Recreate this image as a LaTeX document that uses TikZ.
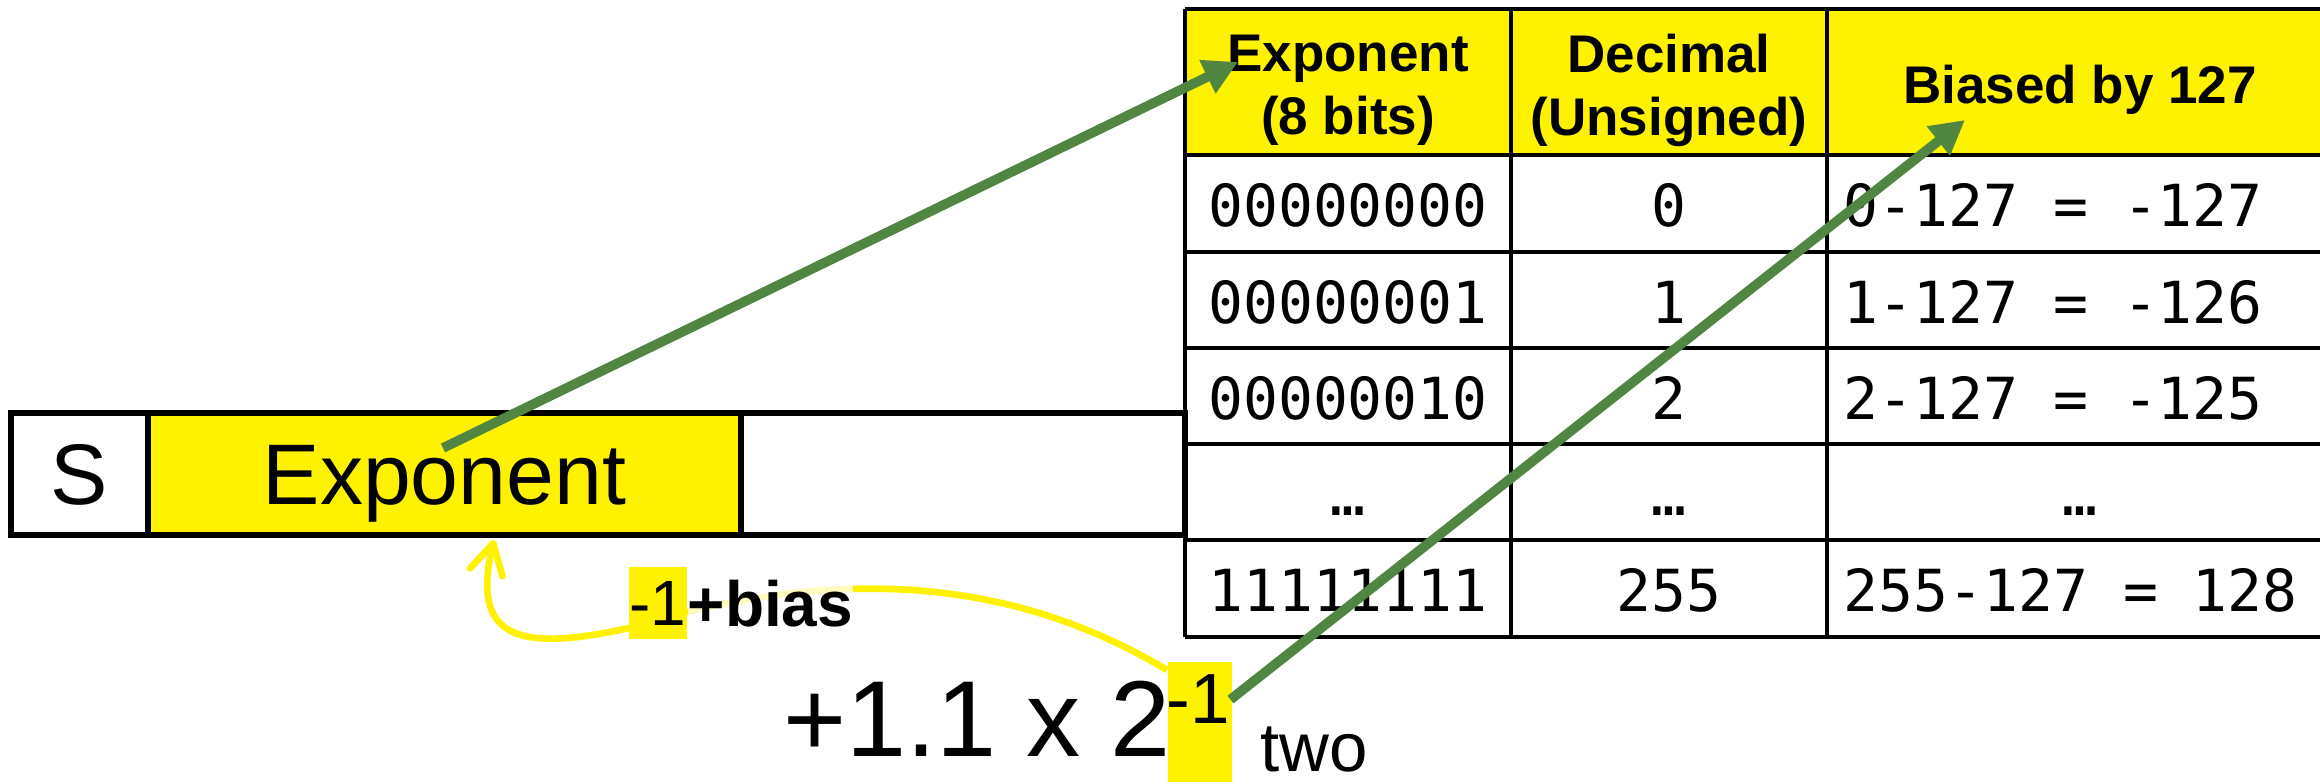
\documentclass[tikz,border=0pt]{standalone}
\usepackage{fontspec}
\setmainfont{Liberation Sans}
\newfontfamily\monofont{DejaVu Sans Mono}
\usetikzlibrary{arrows.meta}
\definecolor{arrowgreen}{RGB}{80,134,66}
\tikzset{
  tabline/.style={line width=1.2pt, draw=black},
  headtxt/.style={inner sep=0pt, align=center, font=\bfseries\fontsize{15.9pt}{18.9pt}\selectfont},
  monotxt/.style={inner sep=0pt, anchor=base, font=\monofont\fontsize{17.4pt}{21pt}\selectfont},
  bitcell/.style={draw, line width=1.8pt, minimum height=36.6pt, inner sep=0pt,
    text height=18.6pt, text depth=0pt, font=\fontsize{25.8pt}{31pt}\selectfont},
  garrow/.style={draw=arrowgreen, line width=2.9pt, -{Triangle[length=10.2pt,width=10.5pt]}},
  yline/.style={draw=yellow, line width=2pt, -{Straight Barb[length=9pt,width=10pt,round]}},
}
\begin{document}
\begin{tikzpicture}[x=0.3pt,y=-0.3pt]
\useasboundingbox (0,0) rectangle (2320,784);
\clip (0,0) rectangle (2320,784);

% ---- table ----
\fill[yellow] (1185,9) rectangle (2340,155);
\foreach \r in {9,155,252,348,444,540,637} \draw[tabline] (1185,\r) -- (2340,\r);
\foreach \c in {1185,1511,1827} \draw[tabline] (\c,9) -- (\c,637);

\node[headtxt] (h1) at (1348,90) {Exponent\\(8 bits)};
\node[headtxt] (h2) at (1669,90) {Decimal\\(Unsigned)};
\node[headtxt, anchor=base] (h3) at (2080,104) {Biased by 127};

\node[monotxt] (a1) at (1348,227) {00000000};
\node[monotxt] (b1) at (1669,227) {0};
\node[monotxt, anchor=base west] (c1) at (1843,227) {0-127 = -127};
\node[monotxt] (a2) at (1348,324) {00000001};
\node[monotxt] (b2) at (1669,324) {1};
\node[monotxt, anchor=base west] (c2) at (1843,324) {1-127 = -126};
\node[monotxt] (a3) at (1348,420) {00000010};
\node[monotxt] (b3) at (1669,420) {2};
\node[monotxt, anchor=base west] (c3) at (1843,420) {2-127 = -125};
\node[monotxt] (a4) at (1348,516) {…};
\node[monotxt] (b4) at (1669,516) {…};
\node[monotxt] (c4) at (2080,516) {…};
\node[monotxt] (a5) at (1348,612) {11111111};
\node[monotxt] (b5) at (1669,612) {255};
\node[monotxt, anchor=base west] (c5) at (1843,612) {255-127 = 128};

% ---- bit layout ----
\node[bitcell, minimum width=41.1pt] (scell) at (79.5,474) {S};
\node[bitcell, fill=yellow, minimum width=177.9pt] (ecell) at (444.5,474) {Exponent};
\node[bitcell, minimum width=133.2pt] (fcell) at (963,474) {};

% ---- formula ----
\node[anchor=base west, inner sep=0pt, font=\fontsize{32.4pt}{38pt}\selectfont] (mant) at (783,757) {+1.1 x 2};
\node[fill=yellow, inner sep=0pt, minimum width=19.2pt, minimum height=36pt, anchor=north west] (suphl) at (1167,661) {};
\node[anchor=base west, inner sep=0pt, font=\fontsize{21.3pt}{25pt}\selectfont] (supt) at (1166,724) {-1};
\node[anchor=base west, inner sep=0pt, font=\fontsize{20.7pt}{25pt}\selectfont] (two) at (1260,772) {two};

% ---- yellow curve ----
\coordinate (ystart) at (1167,670);
\coordinate (ymid) at (629,628);
\coordinate (ytip) at (494,540);
\draw[yline] (ystart) .. controls (1000,570) and (820,570) .. (ymid)
  .. controls (520,652) and (470,640) .. (ytip);

\node[fill=yellow, inner sep=0pt, minimum width=17.4pt, minimum height=21.6pt,
  font=\fontsize{19.2pt}{23pt}\selectfont] (m1) at (658,603) {-1};
\node[fill=white, fill opacity=0.75, text opacity=1, inner sep=0pt, anchor=base west,
  font=\bfseries\fontsize{19.2pt}{23pt}\selectfont] (bias) at (687,627) {+bias};

% ---- green arrows ----
\coordinate (g1s) at (443,448);
\coordinate (g1e) at (1238,62);
\draw[garrow] (g1s) -- (g1e);
\coordinate (g2e) at (1965,120);
\draw[garrow] (supt.east) -- (g2e);
\end{tikzpicture}
\end{document}
